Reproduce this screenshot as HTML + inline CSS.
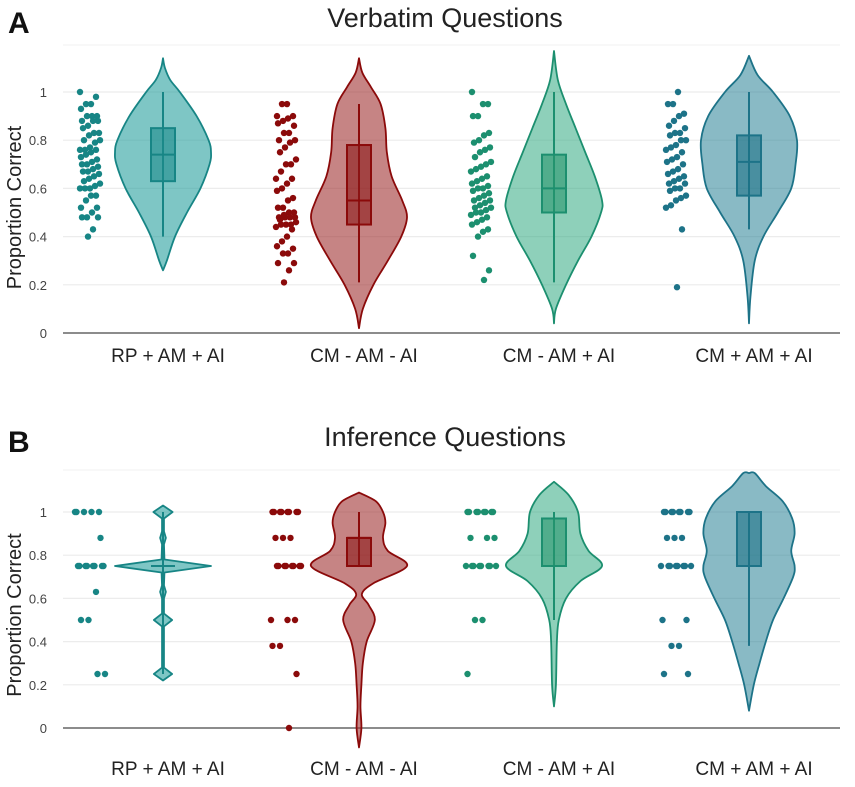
<!DOCTYPE html>
<html><head><meta charset="utf-8"><style>
body{margin:0;background:#fff;}
svg{display:block;font-family:"Liberation Sans",sans-serif;}
</style></head><body>
<svg id="chart" width="855" height="787" xmlns="http://www.w3.org/2000/svg"></svg>
<script>
const categories=["RP + AM + AI","CM - AM - AI","CM - AM + AI","CM + AM + AI"];
const yTicks=[0,0.2,0.4,0.6,0.8,1];
const tickLabels=["0","0.2","0.4","0.6","0.8","1"];
// Panel A (Verbatim) raw points
const ptsA1=[1,.98,.95,.95,.93,.9,.9,.9,.88,.88,.88,.86,.85,.83,.83,.82,.8,.8,.79,.77,.76,.76,.76,.75,.74,.73,.72,.71,.7,.7,.69,.68,.67,.67,.66,.65,.64,.63,.62,.61,.6,.6,.6,.57,.57,.55,.52,.52,.5,.48,.48,.48,.43,.4];
const ptsA2=[.95,.95,.9,.9,.89,.88,.87,.86,.83,.83,.8,.8,.79,.77,.75,.72,.7,.7,.67,.64,.64,.62,.6,.59,.56,.55,.52,.52,.5,.5,.49,.48,.48,.48,.48,.47,.46,.45,.45,.45,.44,.43,.4,.38,.36,.35,.33,.33,.29,.29,.26,.21];
const ptsA3=[1,.95,.95,.9,.9,.83,.82,.8,.79,.77,.76,.75,.73,.71,.7,.69,.68,.67,.65,.64,.63,.62,.61,.6,.6,.59,.58,.57,.56,.55,.55,.54,.53,.52,.52,.51,.5,.5,.49,.48,.47,.46,.45,.43,.42,.4,.32,.26,.22];
const ptsA4=[1,.95,.95,.91,.9,.88,.86,.85,.83,.83,.82,.8,.8,.78,.77,.76,.75,.73,.72,.71,.7,.68,.67,.66,.65,.64,.63,.62,.62,.6,.6,.59,.57,.56,.55,.53,.52,.43,.19];
// Panel B (Inference) raw points
const ptsB1=[1,1,1,1,1,.88,.75,.75,.75,.75,.75,.75,.75,.75,.63,.5,.5,.25,.25];
const ptsB2=[1,1,1,1,1,1,1,1,.88,.88,.88,.75,.75,.75,.75,.75,.75,.75,.75,.5,.5,.5,.38,.38,.25,0];
const ptsB3=[1,1,1,1,1,1,1,1,.88,.88,.88,.75,.75,.75,.75,.75,.75,.75,.75,.5,.5,.25];
const ptsB4=[1,1,1,1,1,1,1,1,.88,.88,.88,.75,.75,.75,.75,.75,.75,.75,.75,.5,.5,.38,.38,.25,.25];
// Density profiles: [value, relative density]
const densA1=[[0.26,0],[0.3,.08],[0.4,.25],[0.5,.5],[0.6,.78],[0.7,.97],[0.75,1],[0.8,.95],[0.9,.7],[1.0,.35],[1.05,.15],[1.1,.04],[1.14,0]];
const densA2=[[0.02,0],[0.1,.08],[0.2,.3],[0.3,.6],[0.4,.88],[0.48,1],[0.55,.9],[0.65,.68],[0.75,.58],[0.85,.55],[0.95,.45],[1.02,.25],[1.08,.07],[1.14,0]];
const densA3=[[0.04,0],[0.1,.04],[0.2,.25],[0.3,.5],[0.4,.78],[0.5,.98],[0.55,1],[0.65,.85],[0.75,.65],[0.85,.45],[0.95,.25],[1.05,.08],[1.17,0]];
const densA4=[[0.04,0],[0.15,.03],[0.3,.12],[0.4,.3],[0.5,.6],[0.6,.88],[0.7,.97],[0.8,1],[0.9,.85],[1.0,.5],[1.07,.18],[1.15,0]];
const densB1=[[0.22,0],[0.25,.19],[0.28,.02],[0.47,.02],[0.5,.19],[0.53,.02],[0.6,.02],[0.63,.06],[0.66,.02],[0.72,.03],[0.75,1],[0.78,.03],[0.85,.02],[0.88,.06],[0.91,.02],[0.97,.02],[1.0,.2],[1.03,0]];
const densB2=[[-0.09,0],[0,.05],[0.1,.03],[0.2,.05],[0.3,.08],[0.4,.16],[0.5,.33],[0.57,.2],[0.62,.06],[0.67,.3],[0.75,1],[0.82,.6],[0.88,.5],[0.95,.55],[1.0,.5],[1.05,.35],[1.09,0]];
const densB3=[[0.1,0],[0.2,.04],[0.4,.06],[0.5,.1],[0.6,.25],[0.68,.55],[0.75,1],[0.82,.72],[0.9,.55],[1.0,.5],[1.08,.3],[1.14,0]];
const densB4=[[0.08,0],[0.2,.1],[0.3,.22],[0.4,.35],[0.5,.5],[0.6,.72],[0.7,.92],[0.75,.95],[0.82,.88],[0.9,.95],[0.97,.9],[1.05,.7],[1.12,.35],[1.18,.12],[1.18,0]];
// Box stats: [whiskerLow, q1, median, q3, whiskerHigh]
const boxA=[[.40,.63,.74,.85,1.0],[.21,.45,.55,.78,.95],[.21,.50,.60,.74,1.0],[.43,.57,.71,.82,1.0]];
const boxB=[[.25,.75,.75,.75,1.0],[.75,.75,.88,.88,1.0],[.5,.75,.75,.97,1.0],[.38,.75,1.0,1.0,1.0]];

const strokes=["#178585","#8b0a0a","#1c8f6f","#1d7388"];
const fills=["rgba(40,160,158,0.6)","rgba(160,50,50,0.6)","rgba(50,170,130,0.55)","rgba(40,130,150,0.55)"];
const boxFills=["rgba(30,140,140,0.6)","rgba(140,25,25,0.6)","rgba(40,150,110,0.6)","rgba(30,115,135,0.6)"];
const NS="http://www.w3.org/2000/svg";
const svg=document.getElementById('chart');
function mk(tag,attrs,parent,txt){const e=document.createElementNS(NS,tag);for(const k in attrs)e.setAttribute(k,attrs[k]);if(txt!==undefined)e.textContent=txt;(parent||svg).appendChild(e);return e;}
function smoothSeg(P){
 let s='';
 for(let i=0;i<P.length-1;i++){
  const p0=P[Math.max(0,i-1)],p1=P[i],p2=P[i+1],p3=P[Math.min(P.length-1,i+2)];
  const c1=[p1[0]+(p2[0]-p0[0])/6,p1[1]+(p2[1]-p0[1])/6];
  const c2=[p2[0]-(p3[0]-p1[0])/6,p2[1]-(p3[1]-p1[1])/6];
  s+=` C${c1[0]},${c1[1]} ${c2[0]},${c2[1]} ${p2[0]},${p2[1]}`;
 }
 return s;
}

const xCenters=[163,359,554,749];
const panels=[
 {title:"Verbatim Questions",letter:"A",titleY:27,letterY:33,y0:333,y1:92,top:45,catY:362,pts:[ptsA1,ptsA2,ptsA3,ptsA4],dens:[densA1,densA2,densA3,densA4],box:boxA,jit:10,name:"verbatim"},
 {title:"Inference Questions",letter:"B",titleY:446,letterY:452,y0:728,y1:512,top:470,catY:775,pts:[ptsB1,ptsB2,ptsB3,ptsB4],dens:[densB1,densB2,densB3,densB4],box:boxB,jit:15,name:"inference"}
];
panels.forEach((p,pi)=>{
 const g=mk('g',{});
 
 
 const Y=v=>p.y0+(p.y1-p.y0)*v;
 const t=mk('text',{x:445,y:p.titleY,'text-anchor':'middle','font-size':27,fill:'#222'},g,p.title);
 
 const l=mk('text',{x:8,y:p.letterY,'font-size':30,'font-weight':'bold',fill:'#111'},g,p.letter);
 
 const tg=mk('line',{x1:63,x2:840,y1:p.top,y2:p.top,stroke:'#f0f0f0','stroke-width':1},g);
 
 yTicks.forEach((v,i)=>{
  if(v>0){const gl=mk('line',{x1:63,x2:840,y1:Y(v),y2:Y(v),stroke:'#ececec','stroke-width':1.2},g);
   }
  const tl=mk('text',{x:47,y:Y(v)+5,'text-anchor':'end','font-size':13,fill:'#444'},g,tickLabels[i]);
  
 });
 const ax=mk('line',{x1:63,x2:840,y1:Y(0),y2:Y(0),stroke:'#666','stroke-width':1.5},g);
 
 const yt=mk('text',{transform:`translate(21,${(p.y0+p.y1)/2-5}) rotate(-90)`,'text-anchor':'middle','font-size':20,fill:'#222'},g,"Proportion Correct");
 
 categories.forEach((c,gi)=>{
  const cx=xCenters[gi];
  const cl=mk('text',{x:cx+5,y:p.catY,'text-anchor':'middle','font-size':19,fill:'#222'},g,c);
  
  // violin
  const d=p.dens[gi];const W=48;
  const R=d.map(q=>[cx+q[1]*W,Y(q[0])]);
  const L=d.slice().reverse().map(q=>[cx-q[1]*W,Y(q[0])]);
  let path;
  if(pi===1&&gi===0){
   path='M'+R.map(q=>q.join(',')).join(' L')+' L'+L.map(q=>q.join(',')).join(' L')+' Z';
  }else{
   path=`M${R[0][0]},${R[0][1]}`+smoothSeg(R)+` L${L[0][0]},${L[0][1]}`+smoothSeg(L)+' Z';
  }
  const v=mk('path',{d:path,fill:fills[gi],stroke:strokes[gi],'stroke-width':1.8,'stroke-linejoin':'round'},g);
  
  // box
  const b=p.box[gi];
  const wl=mk('line',{x1:cx,x2:cx,y1:Y(b[0]),y2:Y(b[4]),stroke:strokes[gi],'stroke-width':2},g);
  
  if(b[3]>b[1]){
   const r=mk('rect',{x:cx-12,y:Y(b[3]),width:24,height:Y(b[1])-Y(b[3]),fill:boxFills[gi],stroke:strokes[gi],'stroke-width':2},g);
   
  }
  const m=mk('line',{x1:cx-12,x2:cx+12,y1:Y(b[2]),y2:Y(b[2]),stroke:strokes[gi],'stroke-width':2},g);
  
  // points
  const dx=cx-73;
  p.pts[gi].forEach((val,i)=>{
   const off=(((i*37+gi*11)%21)-10)/10*p.jit;
   const pt=mk('circle',{cx:dx+off,cy:Y(val),r:3.2,fill:strokes[gi]},g);
   
  });
 });
});
</script>
</body></html>
